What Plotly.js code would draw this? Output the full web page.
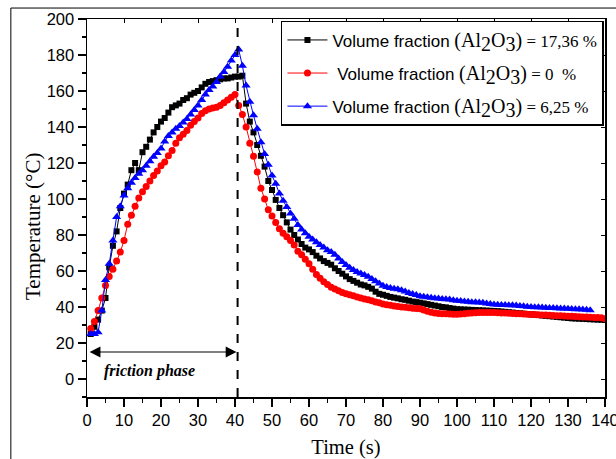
<!DOCTYPE html>
<html><head><meta charset="utf-8">
<script src="https://cdn.plot.ly/plotly-3.0.1.min.js"></script>
<style>html,body{margin:0;padding:0;background:#fff}#chart{width:616px;height:459px}</style>
</head><body><div id="chart"></div>
<script>
// Time (s)
const timeBlack = [1,2,3,4,5,6,7,8,9,10,11,12,13,14,15,16,17,18,19,20,21,22,23,24,25,26,27,28,29,30,31,32,33,34,35,36,37,38,39,40,41,42,43,44,45,46,47,48,49,50,51,52,53,54,55,56,57,58,59,60,61,62,63,64,65,66,67,68,69,70,71,72,73,74,75,76,77,78,79,80,81,82,83,84,85,86,87,88,89,90,91,92,93,94,95,96,97,98,99,100,101,102,103,104,105,106,107,108,109,110,111,112,113,114,115,116,117,118,119,120,121,122,123,124,125,126,127,128,129,130,131,132,133,134,135,136,137,138,139,140];
const tempBlack = [25,29,33,38,45,62,74,82,95,103,108,116,120,116,126,129,133,137,140,143,145,148,151,152,153,155,156,158,159,160,162,164,165,165.5,166,166.5,167,167,167.5,168,168,168.5,153,143,137,130,124,118,110,105,99.5,95,91,87,83,80,77.5,75,73,72,70.5,68.5,67,65.5,64.5,63.5,61.5,60,58.5,57,55.5,54.5,53.5,52.5,52,51.2,50.2,48.5,47.3,46.8,46.2,45.6,45.2,44.8,44.3,44,43.5,43,42.7,42.4,42,41.6,41.2,40.8,40.4,40,39.8,39.4,39.1,38.8,38.7,38.6,38.5,38.4,38.3,38.2,38.1,38,37.9,37.8,37.7,37.5,37.3,37.1,36.9,36.7,36.5,36.3,36.1,35.9,35.7,35.5,35.3,35.1,34.9,34.7,34.5,34.3,34.1,33.9,33.7,33.6,33.5,33.4,33.3,33.2,33.1,33,32.9,32.8];
const timeRed = [1,2,3,4,5,6,7,8,9,10,11,12,13,14,15,16,17,18,19,20,21,22,23,24,25,26,27,28,29,30,31,32,33,34,35,36,37,38,39,40,41,42,43,44,45,46,47,48,49,50,51,52,53,54,55,56,57,58,59,60,61,62,63,64,65,66,67,68,69,70,71,72,73,74,75,76,77,78,79,80,81,82,83,84,85,86,87,88,89,90,91,92,93,94,95,96,97,98,99,100,101,102,103,104,105,106,107,108,109,110,111,112,113,114,115,116,117,118,119,120,121,122,123,124,125,126,127,128,129,130,131,132,133,134,135,136,137,138,139,140];
const tempRed = [28,32,38,45,52,57,61,65.5,70.5,77,86,91,96,100.5,104,107,110,113,115.5,118.5,120.5,124,127,131,134,136,138,141,143,145,147.5,149,150,150.5,151,152,153.5,155,156.5,158,152,147,140,131,123.7,115,106,100,94,90.5,87,83.5,81,79,77,74.5,71,69,66.5,64,61,58,56,54,52.5,51,50,49,48,47.3,46.8,46.2,45.6,45,44.5,44,43.5,42.8,42.3,41.7,41.3,41,40.6,40.3,40,39.8,39.6,39.3,39.1,39,38.4,37.6,37.1,36.7,36.4,36.2,36.2,36.1,36,36,36.1,36.3,36.5,36.7,36.8,36.9,37,37,37,36.9,36.8,36.7,36.6,36.5,36.4,36.3,36.2,36.1,36,35.9,35.8,35.7,35.6,35.5,35.4,35.3,35.2,35.1,35,34.9,34.8,34.7,34.6,34.5,34.4,34.3,34.2,34.1,34,33.5];
const timeBlue = [1,2,3,4,5,6,7,8,9,10,11,12,13,14,15,16,17,18,19,20,21,22,23,24,25,26,27,28,29,30,31,32,33,34,35,36,37,38,39,40,41,42,43,44,45,46,47,48,49,50,51,52,53,54,55,56,57,58,59,60,61,62,63,64,65,66,67,68,69,70,71,72,73,74,75,76,77,78,79,80,81,82,83,84,85,86,87,88,89,90,91,92,93,94,95,96,97,98,99,100,101,102,103,104,105,106,107,108,109,110,111,112,113,114,115,116,117,118,119,120,121,122,123,124,125,126,127,128,129,130,131,132,133,134,135,136];
const tempBlue = [25,25,26,38,55,64,77,90,96,102,106,109,111.7,114,116,118.5,121,123.5,125.5,128,132,135,137,139,140.5,142.5,144.5,147,149.5,152,155,158,160.5,162.5,165,168,170.5,173.5,177,180,183,174,163,154,146.5,139,131.5,125,119,113,108.5,103,99,95.5,92,89,85.5,83,81,79,77.5,76,74.5,73,71.5,70.5,69,67,65,63.3,61.8,60.6,59.5,58.6,57.8,56.8,55.6,54.3,53,51.8,51.1,50.6,50.2,49.8,49.3,48.6,47.8,47.2,46.6,46,45.7,45.4,45.1,44.9,44.7,44.5,44.3,44.1,43.8,43.5,43.3,43.1,42.9,42.7,42.6,42.5,42.3,42,41.7,41.4,41.2,41.1,41.1,41,41,40.8,40.6,40.4,40.2,40,39.9,39.8,39.7,39.6,39.5,39.4,39.3,39.2,39.1,39,38.9,38.8,38.7,38.6,38.5,38.2];
const seriesNames = [
  'Volume fraction <span style="font-family:Liberation Serif;font-size:20px">(Al<sub><span style="font-size:20px">2</span></sub>O<sub><span style="font-size:20px">3</span></sub>)</span><span style="font-family:Liberation Serif"> = 17,36 %</span>',
  ' Volume fraction <span style="font-family:Liberation Serif;font-size:20px">(Al<sub><span style="font-size:20px">2</span></sub>O<sub><span style="font-size:20px">3</span></sub>)</span><span style="font-family:Liberation Serif"> = 0  %</span>',
  'Volume fraction <span style="font-family:Liberation Serif;font-size:20px">(Al<sub><span style="font-size:20px">2</span></sub>O<sub><span style="font-size:20px">3</span></sub>)</span><span style="font-family:Liberation Serif"> = 6,25 %</span>'
];
const xTicks = [0,10,20,30,40,50,60,70,80,90,100,110,120,130,140];
const yTicks = [0,20,40,60,80,100,120,140,160,180,200];
const frictionEnd = 40.7;

const traces = [
  {x: timeBlack, y: tempBlack, name: seriesNames[0], legendgroup: 'a', mode: 'lines+markers', type: 'scatter',
   line: {color: '#000000', width: 1}, marker: {symbol: 'square', size: 6, color: '#000000'}},
  {x: timeRed, y: tempRed, name: seriesNames[1], legendgroup: 'b', mode: 'lines+markers', type: 'scatter',
   line: {color: '#ff0000', width: 1}, marker: {symbol: 'circle', size: 7, color: '#ff0000'}},
  {x: timeBlue, y: tempBlue, name: seriesNames[2], legendgroup: 'c', mode: 'lines+markers', type: 'scatter',
   line: {color: '#0000ff', width: 1}, marker: {symbol: 'triangle-up', size: 8, color: '#0000ff'}}
];

const axisCommon = {showgrid: false, zeroline: false, showline: true, linecolor: '#000', linewidth: 1.5,
  ticks: 'outside', tickcolor: '#000', tickwidth: 1.3, ticklen: 8, ticklabeloverflow: 'allow', automargin: false,
  tickfont: {family: 'Liberation Sans, Arial', size: 16.5, color: '#000'}};

const layout = {
  width: 616, height: 459,
  margin: {l: 87, r: 11, t: 19, b: 62},
  paper_bgcolor: '#fff', plot_bgcolor: '#fff',
  showlegend: true,
  xaxis: Object.assign({}, axisCommon, {range: [0, 140], tickvals: xTicks,
    minor: {dtick: 5, ticks: 'outside', ticklen: 4, tickcolor: '#000', tickwidth: 1.2},
    title: {text: 'Time (s)', font: {family: 'Liberation Serif, Times New Roman', size: 20.5, color: '#000'}, standoff: 14}}),
  yaxis: Object.assign({}, axisCommon, {range: [-10, 200], tickvals: yTicks,
    minor: {dtick: 10, ticks: 'outside', ticklen: 4, tickcolor: '#000', tickwidth: 1.2}}),
  xaxis2: {overlaying: 'x', side: 'top', range: [0, 140], showgrid: false, zeroline: false, showline: true, automargin: false,
    linecolor: '#000', linewidth: 1.5, ticks: 'inside', ticklen: 4, tickcolor: '#000', tickvals: xTicks, showticklabels: false},
  yaxis2: {overlaying: 'y', side: 'right', range: [-10, 200], showgrid: false, zeroline: false, showline: true, automargin: false,
    linecolor: '#000', linewidth: 1.5, ticks: 'inside', ticklen: 4, tickcolor: '#000', tickvals: yTicks, showticklabels: false},
  legend: {x: 0.998, y: 0.995, xanchor: 'right', yanchor: 'top', bgcolor: '#fff',
    bordercolor: '#000', borderwidth: 1.5, font: {family: 'Liberation Sans, Arial', size: 17, color: '#000'},
    itemwidth: 40, tracegroupgap: 8},
  shapes: [
    {type: 'line', xref: 'x', yref: 'paper', x0: frictionEnd, x1: frictionEnd, y0: 0, y1: 1,
     line: {color: '#000', width: 2, dash: 'dash'}},
    {type: 'rect', xref: 'paper', yref: 'paper', x0: -0.147, x1: 1.2, y0: -0.3, y1: 1.029,
     line: {color: '#000', width: 1}, layer: 'below'}
  ],
  annotations: [
    {xref: 'x', yref: 'y', axref: 'x', ayref: 'y', x: frictionEnd - 0.3, y: 15, ax: 0.3, ay: 15,
     text: '', showarrow: true, arrowhead: 2, arrowside: 'end+start', arrowsize: 1.8, arrowwidth: 1.2, arrowcolor: '#000'},
    {xref: 'x', yref: 'y', x: 17, y: 4.5, text: '<b><i>friction phase</i></b>', showarrow: false,
     font: {family: 'Liberation Serif, Times New Roman', size: 16, color: '#000'}},
    {xref: 'paper', yref: 'paper', x: -0.104, y: 0.45, xanchor: 'center', yanchor: 'middle', textangle: -90,
     text: 'Temperature (°C)', showarrow: false,
     font: {family: 'Liberation Serif, Times New Roman', size: 21, color: '#000'}}
  ]
};
traces.push({x: [null], y: [null], xaxis: 'x2', yaxis: 'y2', showlegend: false, hoverinfo: 'skip'});
Plotly.newPlot('chart', traces, layout, {displayModeBar: false, staticPlot: true});
</script>
</body></html>
